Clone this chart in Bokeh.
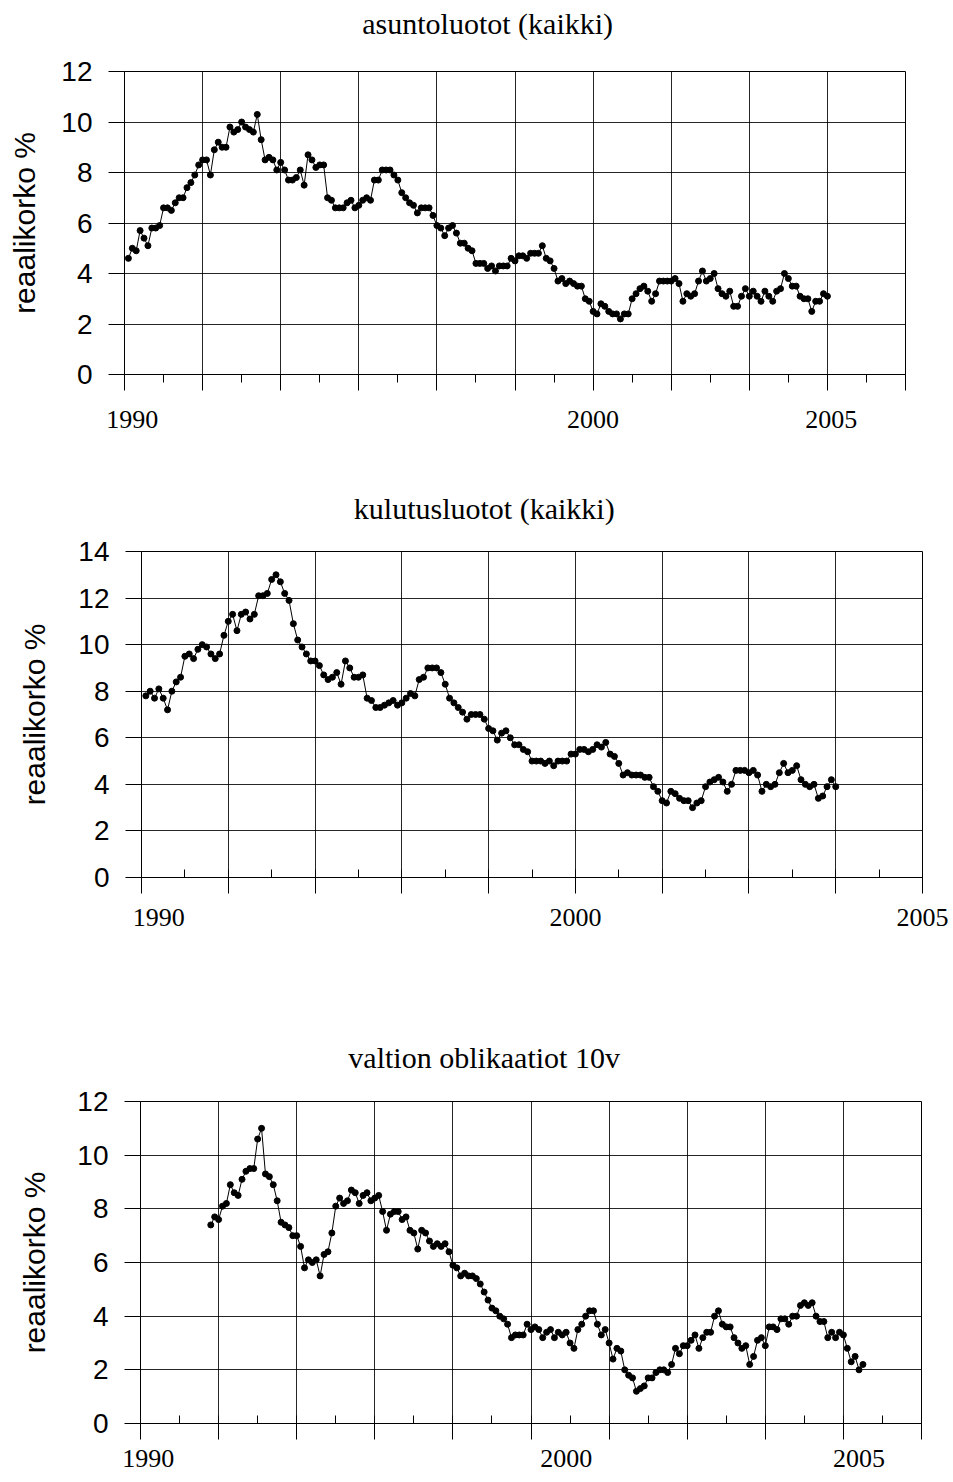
from bokeh.plotting import figure
from bokeh.models import SingleIntervalTicker, FixedTicker, Range1d, LinearAxis
from bokeh.embed import file_html
from bokeh.resources import INLINE

# ---------------- data (monthly, index = months since Jan 1990) ----------------
asunto_start = 1
asunto = [4.6, 5.0, 4.9, 5.7, 5.4, 5.1, 5.8, 5.8, 5.9, 6.6, 6.6, 6.5, 6.8, 7.0, 7.0, 7.4, 7.6, 7.9, 8.3, 8.5,
          8.5, 7.9, 8.9, 9.2, 9.0, 9.0, 9.8, 9.6, 9.7, 10.0, 9.8, 9.7, 9.6, 10.3, 9.3, 8.5, 8.6, 8.5, 8.1, 8.4,
          8.1, 7.7, 7.7, 7.8, 8.1, 7.5, 8.7, 8.5, 8.2, 8.3, 8.3, 7.0, 6.9, 6.6, 6.6, 6.6, 6.8, 6.9, 6.6, 6.7,
          6.9, 7.0, 6.9, 7.7, 7.7, 8.1, 8.1, 8.1, 7.9, 7.7, 7.2, 7.0, 6.8, 6.7, 6.4, 6.6, 6.6, 6.6, 6.3, 5.9,
          5.8, 5.5, 5.8, 5.9, 5.6, 5.2, 5.2, 5.0, 4.9, 4.4, 4.4, 4.4, 4.2, 4.3, 4.1, 4.3, 4.3, 4.3, 4.6, 4.5,
          4.7, 4.7, 4.6, 4.8, 4.8, 4.8, 5.1, 4.6, 4.5, 4.2, 3.7, 3.8, 3.6, 3.7, 3.6, 3.5, 3.5, 3.0, 2.9, 2.5,
          2.4, 2.8, 2.7, 2.5, 2.4, 2.4, 2.2, 2.4, 2.4, 3.0, 3.2, 3.4, 3.5, 3.3, 2.9, 3.2, 3.7, 3.7, 3.7, 3.7,
          3.8, 3.6, 2.9, 3.2, 3.1, 3.2, 3.7, 4.1, 3.7, 3.8, 4.0, 3.4, 3.2, 3.1, 3.3, 2.7, 2.7, 3.1, 3.4, 3.1,
          3.3, 3.1, 2.9, 3.3, 3.1, 2.9, 3.3, 3.4, 4.0, 3.8, 3.5, 3.5, 3.1, 3.0, 3.0, 2.5, 2.9, 2.9, 3.2, 3.1]

kulutus_start = 1
kulutus = [7.8, 8.0, 7.7, 8.1, 7.7, 7.2, 8.0, 8.4, 8.6, 9.5, 9.6, 9.4, 9.8, 10.0, 9.9, 9.6, 9.4, 9.6, 10.4, 11.0,
           11.3, 10.6, 11.3, 11.4, 11.1, 11.3, 12.1, 12.1, 12.2, 12.8, 13.0, 12.7, 12.2, 11.9, 10.9, 10.2, 9.9, 9.6, 9.3, 9.3,
           9.1, 8.7, 8.5, 8.6, 8.8, 8.3, 9.3, 9.0, 8.6, 8.6, 8.7, 7.7, 7.6, 7.3, 7.3, 7.4, 7.5, 7.6, 7.4, 7.5,
           7.7, 7.9, 7.8, 8.5, 8.6, 9.0, 9.0, 9.0, 8.8, 8.3, 7.7, 7.5, 7.3, 7.1, 6.8, 7.0, 7.0, 7.0, 6.8, 6.4,
           6.3, 5.9, 6.2, 6.3, 6.0, 5.7, 5.7, 5.5, 5.4, 5.0, 5.0, 5.0, 4.9, 5.0, 4.8, 5.0, 5.0, 5.0, 5.3, 5.3,
           5.5, 5.5, 5.4, 5.5, 5.7, 5.6, 5.8, 5.3, 5.2, 4.9, 4.4, 4.5, 4.4, 4.4, 4.4, 4.3, 4.3, 3.9, 3.7, 3.3,
           3.2, 3.7, 3.6, 3.4, 3.3, 3.3, 3.0, 3.2, 3.3, 3.9, 4.1, 4.2, 4.3, 4.1, 3.7, 4.0, 4.6, 4.6, 4.6, 4.5,
           4.6, 4.4, 3.7, 4.0, 3.9, 4.0, 4.5, 4.9, 4.5, 4.6, 4.8, 4.2, 4.0, 3.9, 4.0, 3.4, 3.5, 3.9, 4.2, 3.9]

valtio_start = 18
valtio = [7.4, 7.7, 7.6, 8.1, 8.2, 8.9, 8.6, 8.5, 9.1, 9.4, 9.5, 9.5, 10.6, 11.0, 9.3, 9.2, 8.9, 8.3, 7.5, 7.4,
          7.3, 7.0, 7.0, 6.6, 5.8, 6.1, 6.0, 6.1, 5.5, 6.3, 6.4, 7.1, 8.1, 8.4, 8.2, 8.3, 8.7, 8.6, 8.2, 8.5,
          8.6, 8.3, 8.4, 8.5, 7.9, 7.2, 7.8, 7.9, 7.9, 7.6, 7.7, 7.2, 7.1, 6.5, 7.2, 7.1, 6.8, 6.6, 6.7, 6.6,
          6.7, 6.4, 5.9, 5.8, 5.5, 5.6, 5.5, 5.5, 5.4, 5.2, 4.9, 4.6, 4.3, 4.2, 4.0, 3.9, 3.7, 3.2, 3.3, 3.3,
          3.3, 3.7, 3.5, 3.6, 3.5, 3.2, 3.4, 3.5, 3.2, 3.4, 3.3, 3.4, 3.0, 2.8, 3.5, 3.7, 4.0, 4.2, 4.2, 3.7,
          3.3, 3.5, 3.0, 2.4, 2.8, 2.7, 2.0, 1.8, 1.7, 1.2, 1.3, 1.4, 1.7, 1.7, 1.9, 2.0, 2.0, 1.9, 2.2, 2.8,
          2.6, 2.9, 2.9, 3.1, 3.3, 2.8, 3.2, 3.4, 3.4, 4.0, 4.2, 3.7, 3.6, 3.6, 3.2, 3.0, 2.8, 2.9, 2.2, 2.5,
          3.1, 3.2, 2.9, 3.6, 3.6, 3.5, 3.9, 3.9, 3.7, 4.0, 4.0, 4.4, 4.5, 4.4, 4.5, 4.0, 3.8, 3.8, 3.2, 3.4,
          3.2, 3.4, 3.3, 2.8, 2.3, 2.5, 2.0, 2.2]

titles = ["asuntoluotot (kaikki)", "kulutusluotot (kaikki)", "valtion oblikaatiot 10v"]
year_labels = ["1990", "2000", "2005"]
y_label = "reaalikorko %"

SERIF = "Liberation Serif"
SANS = "Liberation Sans"
W = 953


def text_axis(ticks, labels, standoff, size):
    """A line-less, tick-less axis that only carries a few text labels."""
    a = LinearAxis(ticker=FixedTicker(ticks=ticks, minor_ticks=[]),
                   major_label_overrides={t: s for t, s in zip(ticks, labels)})
    a.axis_line_color = None
    a.major_tick_line_color = None
    a.minor_tick_line_color = None
    a.major_tick_in = 0
    a.major_tick_out = 0
    a.major_label_standoff = standoff
    a.major_label_text_font = SERIF
    a.major_label_text_font_size = size
    a.major_label_text_color = "black"
    return a


def panel(xs, ys, title, ymax, xmax, bl, br, bt, bb, h, minor_out,
          title_tick, title_standoff, ylab_standoff, year_ticks, year_standoff):
    p = figure(width=W, height=h, output_backend="svg", toolbar_location=None,
               x_range=Range1d(0, xmax), y_range=Range1d(0, ymax),
               min_border_left=bl, min_border_right=br,
               min_border_top=bt, min_border_bottom=bb)
    p.background_fill_color = "white"
    p.border_fill_color = "white"
    p.outline_line_color = "black"
    p.outline_line_width = 1

    xt = SingleIntervalTicker(interval=20, num_minor_ticks=2)
    yt = SingleIntervalTicker(interval=2, num_minor_ticks=0)
    p.xaxis.ticker = xt
    p.yaxis.ticker = yt
    p.xgrid.ticker = xt
    p.ygrid.ticker = yt
    for g in (p.xgrid, p.ygrid):
        g.grid_line_color = "black"
        g.grid_line_width = 1
        g.grid_line_alpha = 0.85

    ax = p.xaxis[0]
    ax.axis_line_color = "black"
    ax.major_tick_line_color = "black"
    ax.minor_tick_line_color = "black"
    ax.major_tick_in = 0
    ax.major_tick_out = 16
    if minor_out:
        ax.minor_tick_in = 0
        ax.minor_tick_out = 8
    else:
        ax.minor_tick_in = 8
        ax.minor_tick_out = 0
    ax.major_label_text_font_size = "1px"
    ax.major_label_text_color = None
    ax.major_label_standoff = 0

    # chart title above the plot, year labels below the axis
    p.add_layout(text_axis([title_tick], [title], title_standoff, "30px"), "above")
    p.add_layout(text_axis(year_ticks, year_labels, year_standoff, "26px"), "below")

    ay = p.yaxis[0]
    ay.axis_line_color = "black"
    ay.major_tick_line_color = "black"
    ay.minor_tick_line_color = None
    ay.major_tick_in = 0
    ay.major_tick_out = 16
    ay.major_label_standoff = 16
    ay.major_label_text_font = SANS
    ay.major_label_text_font_size = "28px"
    ay.major_label_text_color = "black"
    ay.axis_label = y_label
    ay.axis_label_text_font = SANS
    ay.axis_label_text_font_size = "30px"
    ay.axis_label_text_font_style = "normal"
    ay.axis_label_text_color = "black"
    ay.axis_label_text_line_height = 1.0
    ay.axis_label_standoff = ylab_standoff

    p.line(xs, ys, line_color="black", line_width=1)
    p.scatter(xs, ys, size=6, fill_color="black", line_color="black")
    return p


x1 = list(range(asunto_start, asunto_start + len(asunto)))
x2 = list(range(kulutus_start, kulutus_start + len(kulutus)))
x3 = list(range(valtio_start, valtio_start + len(valtio)))

p1 = panel(x1, asunto, titles[0], 12, 200, 124, 48, 71, 106, 480, True,
           93, 32, 17, [2, 120, 181], 20)
p2 = panel(x2, kulutus, titles[1], 14, 180, 141, 31, 71, 153, 550, False,
           79, 27, 24, [4, 100, 180], 15)
p3 = panel(x3, valtio, titles[2], 12, 200, 140, 32, 71, 57, 450, False,
           88, 28, 23, [2, 109, 184], 10)

open("out.html", "w").write(file_html([p1, p2, p3], INLINE))
